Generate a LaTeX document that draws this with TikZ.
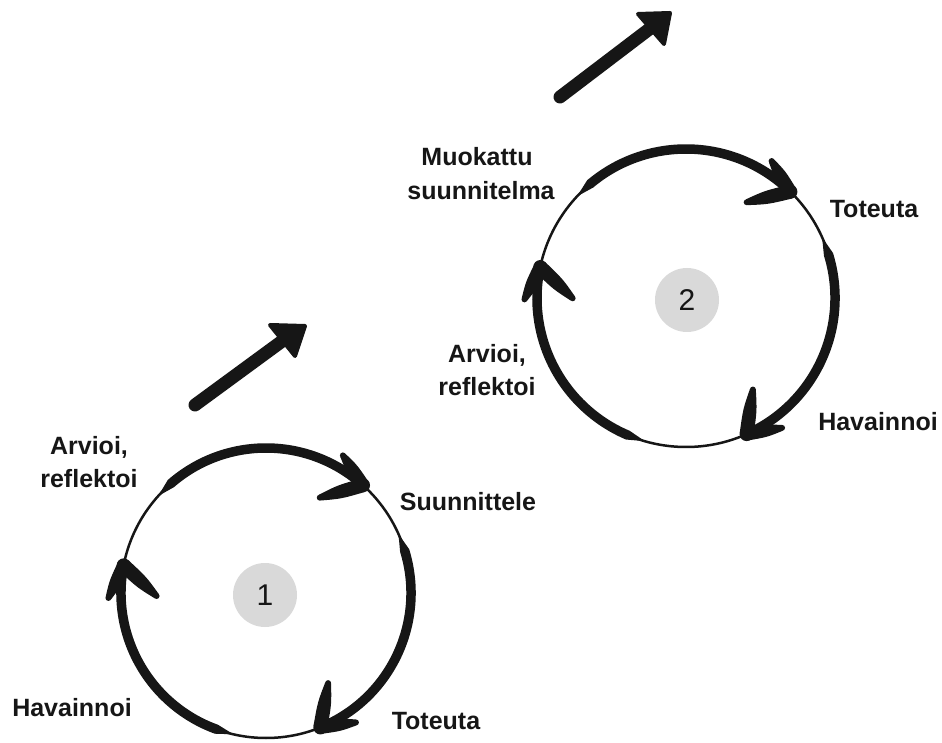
\documentclass[tikz,border=0pt]{standalone}
\usepackage{fontspec}
\setmainfont{Liberation Sans}
\usetikzlibrary{calc}
\definecolor{ink}{HTML}{161616}
\definecolor{disc}{HTML}{D9D9D9}

\newcommand{\thickarc}[5]{% center, r, a1, a2, w
  \fill[ink] ($(#1)+(#3:#2)$) -- ($(#1)+(#3-7:#2+#5/2)$)
    arc[start angle=#3-7, end angle=#4, radius=#2+#5/2]
    -- ($(#1)+(#4:#2-#5/2)$)
    arc[start angle=#4, end angle=#3-7, radius=#2-#5/2] -- cycle;}
\newcommand{\barb}[4]{% tip, direction, length, base width
  \fill[ink, line join=round] ($(#1)+(#2+90:#4/2)$)
    .. controls ($(#1)+(#2:#3*0.55)+(#2+90:#4*0.5)$) .. ($(#1)+(#2:#3)+(#2+90:3)$)
    -- ($(#1)+(#2:#3)+(#2-90:3)$)
    .. controls ($(#1)+(#2:#3*0.55)+(#2-90:#4*0.5)$) .. ($(#1)+(#2-90:#4/2)$) -- cycle;
  \fill[ink] ($(#1)+(#2:#3)$) circle (3);}
\newcommand{\cyctip}[3]{% center, r, theta
  \coordinate (T) at ($(#1)+(#3:#2)$);
  \pgfmathsetmacro{\ph}{#3+98}
  \barb{T}{\ph+50}{45}{14}
  \barb{T}{\ph-22}{36}{13}
  \fill[ink] (T) circle (7);}

\tikzset{
  lbl/.style={font=\fontsize{25}{30}\selectfont\bfseries, text=ink, anchor=base, inner sep=0},
  num/.style={font=\fontsize{30}{36}\selectfont, text=ink},
  ring/.style={draw=ink, line width=2.5},
  bigshaft/.style={draw=ink, line width=13, line cap=round},
  bighead/.style={fill=ink, draw=ink, line width=4, line join=round}
}

\begin{document}
\begin{tikzpicture}[x=1pt,y=1pt]
\useasboundingbox (0,0) rectangle (942,742);

% ---------- cycle 1 ----------
\coordinate (C1) at (266,149);
\draw[ring] (C1) circle (145);
\thickarc{C1}{145}{138}{48}{9.5}
\thickarc{C1}{145}{24}{-68}{9.5}
\thickarc{C1}{145}{-103}{-191}{9.5}
\cyctip{C1}{145}{48}
\cyctip{C1}{145}{-68}
\cyctip{C1}{145}{-191}
\fill[disc] (C1) ++(-1,-2) coordinate (D1) circle (32);
\node[num] (n1) at (D1) {1};

\node[lbl] (a1a) at (89,287) {Arvioi,};
\node[lbl] (a1b) at (89,254) {reflektoi};
\node[lbl] (s1) at (468,231) {Suunnittele};
\node[lbl] (h1) at (72,26) {Havainnoi};
\node[lbl] (t1) at (436,13) {Toteuta};

% ---------- cycle 2 ----------
\coordinate (C2) at (686,444);
\draw[ring] (C2) circle (149);
\thickarc{C2}{149}{137}{45.5}{9.5}
\thickarc{C2}{149}{24}{-66}{9.5}
\thickarc{C2}{149}{-106}{-192}{9.5}
\cyctip{C2}{149}{45.5}
\cyctip{C2}{149}{-66}
\cyctip{C2}{149}{-192}
\fill[disc] (C2) ++(1,-2) coordinate (D2) circle (32);
\node[num] (n2) at (D2) {2};

\node[lbl] (m2a) at (477,576) {Muokattu};
\node[lbl] (m2b) at (481,542) {suunnitelma};
\node[lbl] (t2) at (874,524) {Toteuta};
\node[lbl] (a2a) at (487,379) {Arvioi,};
\node[lbl] (a2b) at (487,346) {reflektoi};
\node[lbl] (h2) at (878,311) {Havainnoi};

% ---------- big arrows ----------
\coordinate (A1t) at (195,337);
\coordinate (A1e) at (285,403);
\coordinate (A1p) at (305,416);
\coordinate (A1c) at (270,417);
\coordinate (A1d) at (295,386);
\draw[bigshaft] (A1t) -- (A1e);
\filldraw[bighead] (A1p) -- (A1c) -- (A1d) -- cycle;

\coordinate (A2t) at (560,645);
\coordinate (A2e) at (652,715);
\coordinate (A2p) at (670,729);
\coordinate (A2c) at (638,728);
\coordinate (A2d) at (664,698);
\draw[bigshaft] (A2t) -- (A2e);
\filldraw[bighead] (A2p) -- (A2c) -- (A2d) -- cycle;
\end{tikzpicture}
\end{document}
